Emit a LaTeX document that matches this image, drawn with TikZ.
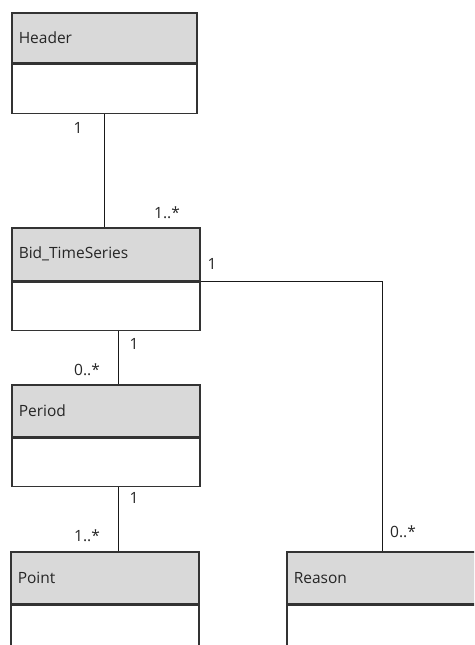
\documentclass[tikz,border=0pt]{standalone}
\usepackage{fontspec}
\setmainfont{Open Sans}
\usepackage{tikz}
\usetikzlibrary{calc}
\definecolor{clsFill}{HTML}{D9D9D9}
\definecolor{clsLine}{HTML}{333333}
\tikzstyle{tsText} = [
    text=black!85,
    font=\fontsize{15.5}{18}\selectfont
]
\tikzstyle{tsBox} = [
    rectangle,
    tsText,
    draw=clsLine,
    line width=1.5pt,
    anchor=north west,
    inner xsep=7pt,
    text width=174pt,
    align=left]
\tikzstyle{tsHead} = [
    tsBox,
    fill=clsFill,
    minimum height=52pt]
\tikzstyle{tsBody} = [
    tsBox,
    fill=white,
    minimum height=48pt]
\tikzstyle{tsLink} = [
    draw=black!90,
    line width=1pt]

\begin{document}
\begin{tikzpicture}[x=1pt, y=-1pt]

        \clip (0,0) rectangle (474,645);
        \fill[white] (0,0) rectangle (474,645);

        % classes
        \node[tsHead, minimum height=50pt, text width=171pt] (header) at (11,12) {Header};
        \node[tsBody, minimum height=49pt, text width=171pt] (headerBody) at (header.south west) {};

        \node[tsHead, minimum height=53pt] (bid) at (11,227) {Bid\_TimeSeries};
        \node[tsBody] (bidBody) at (bid.south west) {};

        \node[tsHead] (period) at (11,384) {Period};
        \node[tsBody] (periodBody) at (period.south west) {};

        \node[tsHead] (point) at (10,551) {Point};
        \node[tsBody, minimum height=100pt] (pointBody) at (point.south west) {};

        \node[tsHead, text width=190pt] (reason) at (286,551) {Reason};
        \node[tsBody, minimum height=100pt, text width=190pt] (reasonBody) at (reason.south west) {};

        % associations
        \coordinate (split) at (118,0);
        \coordinate (side) at (382,0);
        \draw[tsLink] (headerBody.south) -- (headerBody.south |- bid.north);
        \draw[tsLink] (split |- bidBody.south) -- (split |- period.north);
        \draw[tsLink] (split |- periodBody.south) -- (split |- point.north);
        \draw[tsLink] (bid.south east) -| (side |- reason.north);

        % multiplicities
        \node[tsText] (mHeader) at (78,128) {1};
        \node[tsText] (mBidTop) at (167,213) {1..*};
        \node[tsText] (mBidRight) at (212,264) {1};
        \node[tsText] (mBidBottom) at (134,344) {1};
        \node[tsText] (mPeriodTop) at (87,370) {0..*};
        \node[tsText] (mPeriodBottom) at (134,498) {1};
        \node[tsText] (mPoint) at (87,536) {1..*};
        \node[tsText] (mReason) at (403,532) {0..*};

\end{tikzpicture}
\end{document}
